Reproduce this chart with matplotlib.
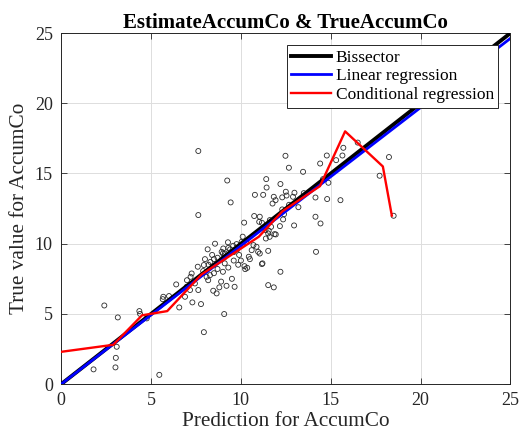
import matplotlib
matplotlib.use("Agg")
import matplotlib.pyplot as plt
import numpy as np

plt.rcParams['font.family'] = ['Liberation Serif', 'DejaVu Serif']

# predicted vs true AccumCo
pred = [1.8, 2.4, 3.15, 3.09, 3.04, 3.02, 4.35, 4.39, 4.76, 5.46, 5.65, 5.68, 6.0, 6.57,
        6.89, 7.17, 6.98, 7.2, 7.26, 7.44, 7.63, 7.3, 7.78, 7.94, 9.07, 9.65, 7.6, 7.94,
        7.9, 8.09, 8.18, 8.28, 8.46, 8.65, 8.8, 8.5, 8.7, 9.0, 9.3, 9.5, 8.9, 9.2, 8.3,
        8.5, 8.4, 8.7, 9.1, 9.0, 9.6, 9.85, 10.0, 10.2, 10.24, 10.35, 10.44, 10.5, 11.17,
        11.2, 12.2, 11.52, 11.83, 11.52, 9.02, 8.93, 9.11, 9.07, 8.15, 8.56, 9.28, 9.57,
        9.76, 10.04, 10.3, 9.4, 9.6, 9.8, 10.6, 10.87, 10.96, 11.05, 9.9,
        7.63, 9.24, 9.43, 7.63, 10.78, 11.24, 11.43, 11.41, 10.18, 10.74, 11.05, 11.02,
        11.17, 11.39, 11.37, 11.55, 11.52, 11.87, 11.6, 11.61, 11.68, 12.17, 11.94, 12.35,
        12.4, 12.3, 12.96, 12.68, 12.3, 11.83, 11.93, 11.76, 12.5, 12.54, 12.98, 12.9,
        12.2, 12.48, 12.67, 13.46, 14.15, 14.8, 15.54, 14.15, 14.43, 14.18, 14.41, 14.78,
        15.3, 15.65, 15.7, 16.5, 18.24, 17.72, 18.5, 14.87, 14.57, 13.5, 13.2,
        6.4, 7.0, 8.0, 8.2, 10.1, 10.7, 9.3]
true = [1.05, 5.6, 4.75, 2.66, 1.87, 1.19, 5.2, 5.0, 4.68, 0.66, 6.05, 6.22, 6.27, 5.46,
        6.22, 6.7, 6.93, 7.64, 7.88, 7.17, 6.7, 5.82, 5.7, 3.7, 4.99, 6.93, 8.36, 8.48,
        8.05, 7.64, 7.4, 7.76, 6.65, 6.46, 6.89, 7.9, 8.2, 8.0, 8.3, 7.5, 7.3, 7.0, 8.7,
        8.9, 9.2, 9.0, 8.6, 9.3, 8.8, 8.5, 8.8, 8.4, 8.19, 8.28, 9.07, 8.9, 8.55,
        8.6, 8.0, 7.05, 6.89, 9.49, 9.66, 9.42, 9.3, 9.02, 9.6, 10.0, 10.1, 9.85,
        9.97, 10.13, 10.1, 9.6, 9.4, 9.6, 9.54, 9.78, 9.42, 9.3, 9.2,
        16.6, 14.5, 12.94, 12.04, 13.48, 13.48, 14.0, 14.6, 11.5, 11.97, 11.92, 11.56,
        11.49, 10.37, 10.97, 10.92, 10.73, 10.68, 10.49, 11.68, 11.2, 11.25, 10.66, 11.73,
        12.1, 12.44, 11.3, 12.77, 13.3, 13.34, 13.1, 12.86, 13.7, 13.43, 13.63, 13.34,
        14.25, 16.26, 15.41, 15.12, 13.29, 13.18, 13.1, 11.92, 11.44, 9.42, 15.71, 16.28,
        15.95, 16.28, 16.83, 17.2, 16.17, 14.84, 11.99, 14.34, 14.6, 13.6, 12.6,
        7.1, 7.4, 8.9, 8.5, 10.5, 9.9, 9.7]

# piecewise conditional regression curve
cond_x = [0.0, 2.9, 4.5, 5.9, 7.8, 9.7, 11.0, 12.3, 14.4, 15.8, 17.9, 18.4]
cond_y = [2.3, 2.8, 4.9, 5.2, 7.8, 9.4, 10.5, 12.3, 14.1, 18.0, 15.5, 12.0]

# linear fit coefficients
lin_slope = 0.985
lin_icpt = 0.0
line_x = np.array([0, 25])

fig, ax = plt.subplots(figsize=(5.23, 4.41), dpi=100)
fig.subplots_adjust(left=0.117, right=0.976, bottom=0.129, top=0.925)

ax.scatter(pred, true, s=13, facecolors='none', edgecolors='#2a2a2a', linewidths=0.6, zorder=2)
ax.plot(line_x, line_x, color='black', lw=2.8, label='Bissector', zorder=3)
ax.plot(line_x, lin_slope * line_x + lin_icpt, color='blue', lw=2.0, label='Linear regression', zorder=4)
ax.plot(cond_x, cond_y, color='red', lw=1.7, label='Conditional regression', zorder=5)

ax.set_xlim(0, 25)
ax.set_ylim(0, 25)
ax.set_xticks(np.arange(0, 26, 5))
ax.set_yticks(np.arange(0, 26, 5))
ax.grid(True, color='#dddddd', lw=0.7)
ax.set_axisbelow(True)
ax.tick_params(direction='in', top=True, right=True, labelsize=13, length=4, width=0.6,
               colors='#262626', pad=6)
for sp in ax.spines.values():
    sp.set_color('#262626')
    sp.set_linewidth(0.7)

ax.set_xlabel('Prediction for AccumCo', fontsize=15.3, color='#262626', labelpad=2)
ax.set_ylabel('True value for AccumCo', fontsize=15.3, color='#262626', labelpad=4)
ax.set_title('EstimateAccumCo & TrueAccumCo', fontsize=15, fontweight='bold', pad=4)

leg = ax.legend(loc='upper right', fontsize=12.5, fancybox=False, framealpha=1,
                edgecolor='#262626', borderaxespad=0.7, handlelength=2.3,
                borderpad=0.25, labelspacing=0.15, handletextpad=0.25)
leg.get_frame().set_linewidth(0.7)

plt.savefig('out.png', dpi=100)
